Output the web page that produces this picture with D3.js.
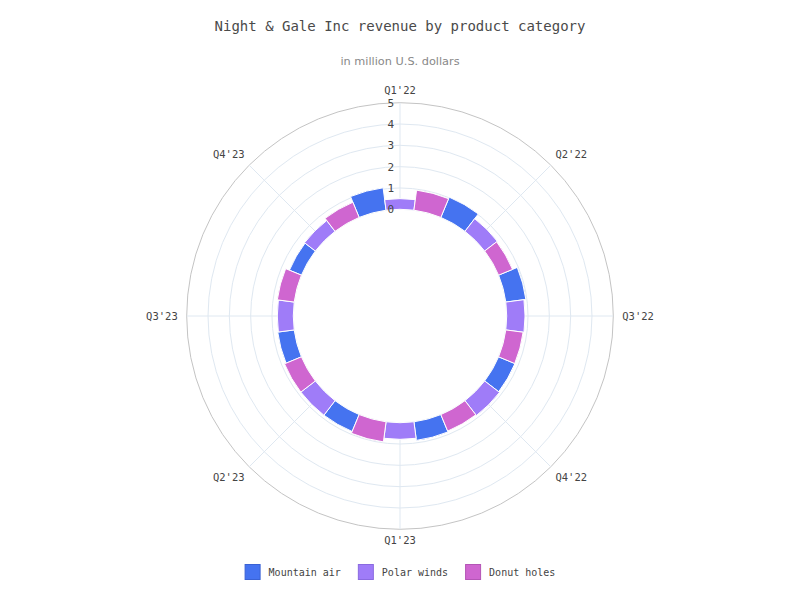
<!DOCTYPE html>
<html>
<head>
<meta charset="utf-8">
<script src="https://cdn.jsdelivr.net/npm/d3@7"></script>
<style>
  html, body { margin: 0; padding: 0; background: #fff; }
  svg { display: block; }
</style>
</head>
<body>
<svg id="chart" width="800" height="600"></svg>
<script>
// ---- data ----
const categories = ["Q1'22", "Q2'22", "Q3'22", "Q4'22", "Q1'23", "Q2'23", "Q3'23", "Q4'23"];
const seriesNames = ["Mountain air", "Polar winds", "Donut holes"];
const seriesColors = ["#4573f0", "#9f7cf8", "#cf66d0"];
const seriesBorders = ["#3a62d4", "#8a6ae0", "#b455b6"];
const mountainAir = [1.06, 1.03, 0.95, 0.83, 0.88, 0.86, 0.78, 0.61];
const polarWinds  = [0.50, 0.75, 0.86, 0.88, 0.78, 0.86, 0.75, 0.64];
const donutHoles  = [0.95, 0.71, 0.82, 0.84, 0.95, 0.86, 0.80, 0.77];
const yTicks = [0, 1, 2, 3, 4, 5];
const titleText = "Night & Gale Inc revenue by product category";
const subtitleText = "in million U.S. dollars";

const seriesValues = [mountainAir, polarWinds, donutHoles];

// ---- layout ----
const svg = d3.select("#chart");
const cx = 400, cy = 316, R = 213.3, r0 = 106.7;
const mono = "'DejaVu Sans Mono', monospace";

// title
svg.append("text").attr("x", 400).attr("y", 31).attr("text-anchor", "middle")
  .attr("font-family", mono).attr("font-size", 14).attr("fill", "#4a4a4a")
  .text(titleText);
svg.append("text").attr("x", 400).attr("y", 65).attr("text-anchor", "middle")
  .attr("font-family", "'DejaVu Sans', sans-serif").attr("font-size", 11.3).attr("fill", "#888")
  .text(subtitleText);

const g = svg.append("g").attr("transform", `translate(${cx},${cy})`);

// scales
const step = 2 * Math.PI / categories.length;
const xAngle = d3.scaleBand().domain(categories).range([-step / 2, 2 * Math.PI - step / 2]).padding(0);
const xSeries = d3.scaleBand().domain(seriesNames).range([0, xAngle.bandwidth()]).padding(0);
const y = d3.scaleLinear().domain([0, 5]).range([r0, R]);

// grid circles
g.selectAll("circle.grid").data(yTicks).join("circle")
  .attr("class", "grid")
  .attr("r", d => y(d))
  .attr("fill", "none")
  .attr("stroke", d => d === 5 ? "#c4c4c4" : "#dfe8f1")
  .attr("stroke-width", 1);

// spokes
g.selectAll("line.spoke").data(categories).join("line")
  .attr("class", "spoke")
  .attr("x1", d => y(0) * Math.sin(xAngle(d) + xAngle.bandwidth() / 2))
  .attr("y1", d => -y(0) * Math.cos(xAngle(d) + xAngle.bandwidth() / 2))
  .attr("x2", d => y(5) * Math.sin(xAngle(d) + xAngle.bandwidth() / 2))
  .attr("y2", d => -y(5) * Math.cos(xAngle(d) + xAngle.bandwidth() / 2))
  .attr("stroke", "#dfe8f1").attr("stroke-width", 1);

// bars
const barData = [];
seriesNames.forEach((s, si) => {
  categories.forEach((c, ci) => {
    barData.push({ series: s, si, cat: c, value: seriesValues[si][ci] });
  });
});
const arc = d3.arc()
  .innerRadius(y(0))
  .outerRadius(d => y(d.value))
  .startAngle(d => xAngle(d.cat) + xSeries(d.series))
  .endAngle(d => xAngle(d.cat) + xSeries(d.series) + xSeries.bandwidth());
g.selectAll("path.bar").data(barData).join("path")
  .attr("class", "bar")
  .attr("d", arc)
  .attr("fill", d => seriesColors[d.si])
  .attr("stroke", "#fff").attr("stroke-width", 1);

// y-axis labels
g.selectAll("text.ylab").data(yTicks).join("text")
  .attr("class", "ylab")
  .attr("x", -6)
  .attr("y", d => -y(d))
  .attr("dy", "0.35em")
  .attr("text-anchor", "end")
  .attr("font-family", mono).attr("font-size", 11).attr("fill", "#444")
  .text(d => d);

// x-axis (category) labels
const labR = R + 15;
g.selectAll("text.xlab").data(categories).join("text")
  .attr("class", "xlab")
  .each(function (d) {
    const a = xAngle(d) + xAngle.bandwidth() / 2;
    const sx = Math.sin(a), cy_ = Math.cos(a);
    let x = labR * sx, yy = -labR * cy_;
    let anchor = "middle";
    if (sx > 0.1) { anchor = "start"; x -= 6; }
    else if (sx < -0.1) { anchor = "end"; x += 6; }
    if (cy_ > 0.9) yy += 3;
    if (cy_ < -0.9) yy -= 4;
    d3.select(this).attr("x", x).attr("y", yy).attr("dy", "0.35em").attr("text-anchor", anchor);
  })
  .attr("font-family", mono).attr("font-size", 10.5).attr("fill", "#444")
  .text(d => d);

// legend
const legend = svg.append("g");
let lx = 0;
seriesNames.forEach((s, i) => {
  const item = legend.append("g").attr("transform", `translate(${lx},0)`);
  item.append("rect").attr("x", 0.5).attr("y", 0.5).attr("width", 15).attr("height", 15)
    .attr("fill", seriesColors[i]).attr("stroke", seriesBorders[i]).attr("stroke-width", 1);
  const t = item.append("text").attr("x", 24).attr("y", 8).attr("dy", "0.35em")
    .attr("font-family", mono).attr("font-size", 10).attr("fill", "#444").text(s);
  lx += 24 + t.node().getComputedTextLength() + 17;
});
const legendW = lx - 17;
legend.attr("transform", `translate(${(400 - legendW / 2).toFixed(1)},564)`);
</script>
</body>
</html>
